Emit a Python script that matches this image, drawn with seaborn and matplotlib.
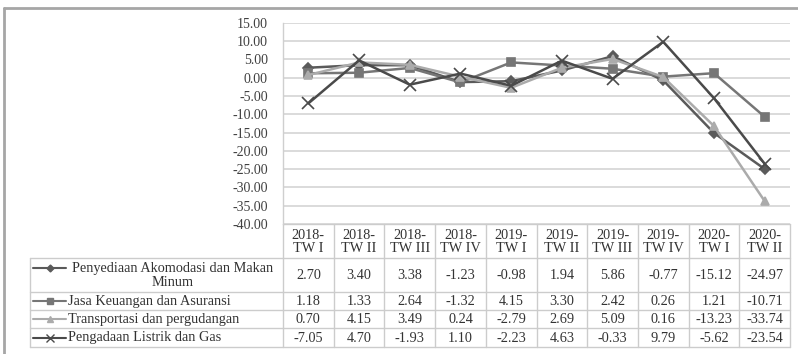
import numpy as np
import pandas as pd
import seaborn as sns
import matplotlib.pyplot as plt

# Quarterly growth (%) by sector
periods = ["2018-\nTW I", "2018-\nTW II", "2018-\nTW III", "2018-\nTW IV",
           "2019-\nTW I", "2019-\nTW II", "2019-\nTW III", "2019-\nTW IV",
           "2020-\nTW I", "2020-\nTW II"]
series_names = ["Penyediaan Akomodasi dan Makan Minum",
                "Jasa Keuangan dan Asuransi",
                "Transportasi dan pergudangan",
                "Pengadaan Listrik dan Gas"]
akomodasi = [2.70, 3.40, 3.38, -1.23, -0.98, 1.94, 5.86, -0.77, -15.12, -24.97]
keuangan = [1.18, 1.33, 2.64, -1.32, 4.15, 3.30, 2.42, 0.26, 1.21, -10.71]
transportasi = [0.70, 4.15, 3.49, 0.24, -2.79, 2.69, 5.09, 0.16, -13.23, -33.74]
listrik = [-7.05, 4.70, -1.93, 1.10, -2.23, 4.63, -0.33, 9.79, -5.62, -23.54]
y_ticks = [15, 10, 5, 0, -5, -10, -15, -20, -25, -30, -35, -40]

values = [akomodasi, keuangan, transportasi, listrik]
colors = ["#5a5a5a", "#767676", "#ababab", "#4a4a4a"]
markers = ["D", "s", "^", "x"]
msizes = [5, 6, 6, 8]

df = pd.DataFrame({
    "pos": np.tile(np.arange(len(periods)), len(series_names)),
    "value": np.concatenate(values),
    "series": np.repeat(series_names, len(periods)),
})

sns.set_theme(style="white")
plt.rcParams["font.family"] = ["Liberation Serif", "DejaVu Serif"]

W, H = 798, 354
fig = plt.figure(figsize=(W / 100, H / 100), dpi=100)
fig.patch.set_facecolor("white")

# overlay in pixel coordinates for the data table and frame
ov = fig.add_axes([0, 0, 1, 1])
ov.set_xlim(0, W)
ov.set_ylim(H, 0)
ov.axis("off")

x0, x1 = 283, 790
top, bot = 22.7, 224
ax = fig.add_axes([x0 / W, 1 - bot / H, (x1 - x0) / W, (bot - top) / H])
ax.patch.set_alpha(0)

for name, c, m, ms in zip(series_names, colors, markers, msizes):
    sub = df[df["series"] == name]
    sns.lineplot(data=sub, x="pos", y="value", color=c, marker=m,
                 markersize=ms, markeredgecolor=c, markeredgewidth=1.2,
                 linewidth=1.8, ax=ax)

ax.set_xlim(-0.5, len(periods) - 0.5)
ax.set_ylim(-40, 15)
ax.set_yticks(y_ticks)
ax.set_yticklabels([f"{v:.2f}" for v in y_ticks])
ax.set_xticks([])
ax.set_xlabel("")
ax.set_ylabel("")
ax.yaxis.grid(True, color="#d4d4d4", linewidth=1.2)
ax.set_axisbelow(True)
for s in ["top", "right", "bottom"]:
    ax.spines[s].set_visible(False)
ax.spines["left"].set_color("#cfcfcf")
ax.spines["left"].set_linewidth(1.0)
ax.tick_params(axis="y", length=0, pad=11, labelsize=10, labelcolor="#404040")

# outer frame
ov.plot([4, 4], [8, H], color="#a6a6a6", lw=2)
ov.plot([4, W], [8, 8], color="#a6a6a6", lw=2)

# data table
grid_c = "#cccccc"
col_w = (x1 - x0) / len(periods)
rows_y = [224, 258, 292, 310, 328, 347]
tab_left = 30
ov.plot([x0, x1], [rows_y[0]] * 2, color=grid_c, lw=1)
for yy in rows_y[1:]:
    ov.plot([tab_left, x1], [yy, yy], color=grid_c, lw=1)
ov.plot([tab_left, tab_left], [rows_y[1], rows_y[-1]], color=grid_c, lw=1)
for i in range(len(periods) + 1):
    xx = x0 + i * col_w
    ov.plot([xx, xx], [rows_y[0], rows_y[-1]], color=grid_c, lw=1)

txt_c = "#333333"
fs = 10.3
for i, p in enumerate(periods):
    cx = x0 + (i + 0.5) * col_w
    ov.text(cx, (rows_y[0] + rows_y[1]) / 2 + 1, p, ha="center", va="center",
            fontsize=fs, color=txt_c, linespacing=1.0)

for r, (name, vals, c, m, ms) in enumerate(zip(series_names, values, colors, markers, msizes)):
    ya, yb = rows_y[r + 1], rows_y[r + 2]
    yc = (ya + yb) / 2
    key_y = yc if r > 0 else ya + 10
    ov.plot([33, 66], [key_y, key_y], color=c, lw=1.5)
    ov.plot([49.5], [key_y], marker=m, color=c, markersize=ms * 0.7,
            markeredgecolor=c, markeredgewidth=1.0)
    if r == 0:
        ov.text(173, yc + 0.5, "Penyediaan Akomodasi dan Makan\nMinum",
                ha="center", va="center", fontsize=fs, color=txt_c, linespacing=1.1)
    else:
        ov.text(68, yc + 0.5, name, ha="left", va="center", fontsize=fs, color=txt_c)
    for i, v in enumerate(vals):
        cx = x0 + (i + 0.5) * col_w
        ov.text(cx, yc + 0.5, f"{v:.2f}", ha="center", va="center",
                fontsize=fs, color=txt_c)

fig.savefig("out.png", dpi=100, facecolor="white")
